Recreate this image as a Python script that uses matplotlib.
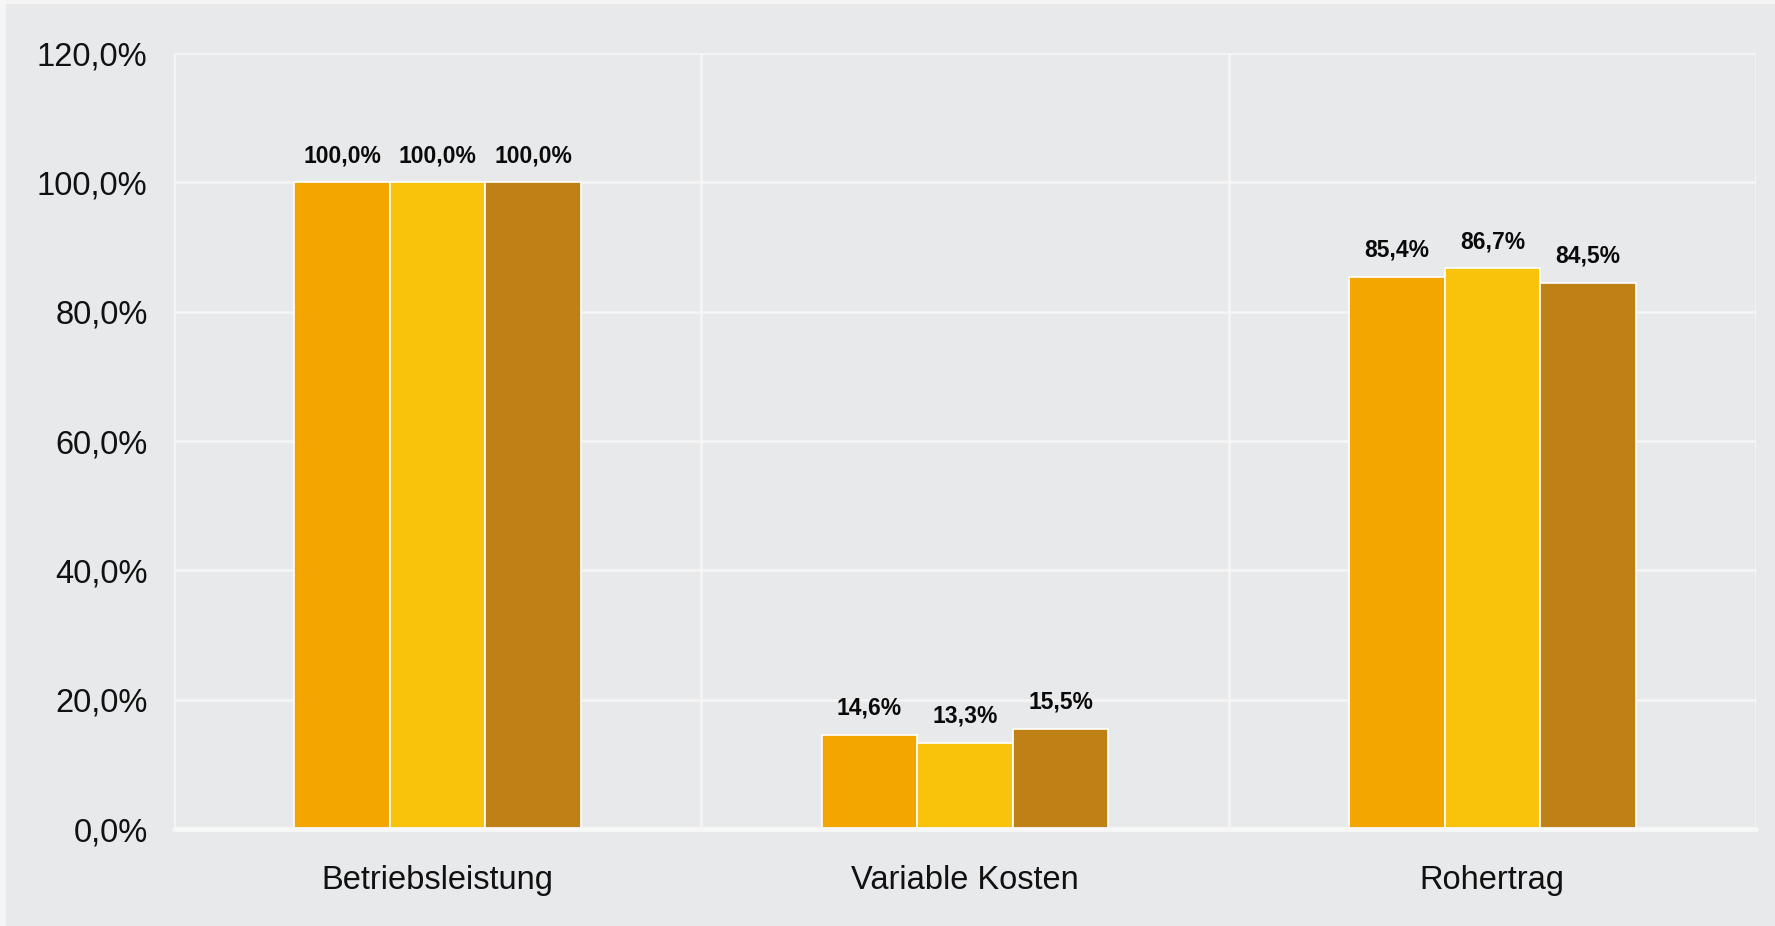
import matplotlib
matplotlib.use("Agg")
import matplotlib.pyplot as plt
import numpy as np
from matplotlib.patches import Rectangle

categories = ["Betriebsleistung", "Variable Kosten", "Rohertrag"]
series_a = [100.0, 14.6, 85.4]
series_b = [100.0, 13.3, 86.7]
series_c = [100.0, 15.5, 84.5]
yticks = [0, 20, 40, 60, 80, 100, 120]

colors = ["#F4A600", "#FAC30B", "#BF8116"]
panel = "#E8E9EB"
gridc = "#F6F6F6"

plt.rcParams['font.family'] = ['Liberation Sans', 'DejaVu Sans']

W, H = 1775, 926
fig = plt.figure(figsize=(W / 100, H / 100), dpi=100, facecolor="#F5F5F5")
fig.patches.append(Rectangle((6 / W, 0), 1, 1 - 4 / H, transform=fig.transFigure,
                             facecolor=panel, edgecolor="none", zorder=-10))

left, right, top, bottom = 174, 1756, 53, 829
ax = fig.add_axes([left / W, 1 - bottom / H, (right - left) / W, (bottom - top) / H])
ax.set_facecolor(panel)

x = np.arange(len(categories))
bw = 0.181
for i, (vals, c) in enumerate(zip([series_a, series_b, series_c], colors)):
    pos = x + (i - 1) * bw
    bars = ax.bar(pos, vals, width=bw, color=c, edgecolor="white", linewidth=1.2, zorder=3)
    for xp, v in zip(pos, vals):
        ax.annotate(f"{v:.1f}%".replace(".", ","), (xp, v), xytext=(0, 11),
                    textcoords="offset points", ha="center", va="bottom",
                    fontsize=16.5, fontweight="bold", color="#0A0A0A", zorder=4)

ax.set_xlim(-0.5, 2.5)
ax.set_ylim(0, 120)
ax.set_yticks(yticks)
ax.set_yticklabels([f"{t:.1f}%".replace(".", ",") for t in yticks], fontsize=23.5, color="#111111")
ax.set_xticks(x)
ax.set_xticklabels(categories, fontsize=23.5, color="#111111")
ax.tick_params(axis="both", length=0)
ax.tick_params(axis="y", pad=19)
ax.tick_params(axis="x", pad=26)

ax.grid(axis="y", color=gridc, linewidth=1.8, zorder=0)
for xv in [-0.5, 0.5, 1.5, 2.5]:
    ax.axvline(xv, color=gridc, linewidth=1.8, zorder=0)
for s in ["top", "right", "left"]:
    ax.spines[s].set_visible(False)
ax.spines["bottom"].set_color("#F7F7F7")
ax.spines["bottom"].set_linewidth(3.5)
ax.spines["bottom"].set_capstyle("round")
ax.spines["bottom"].set_zorder(5)

fig.savefig("out.png", dpi=100, facecolor=fig.get_facecolor())
